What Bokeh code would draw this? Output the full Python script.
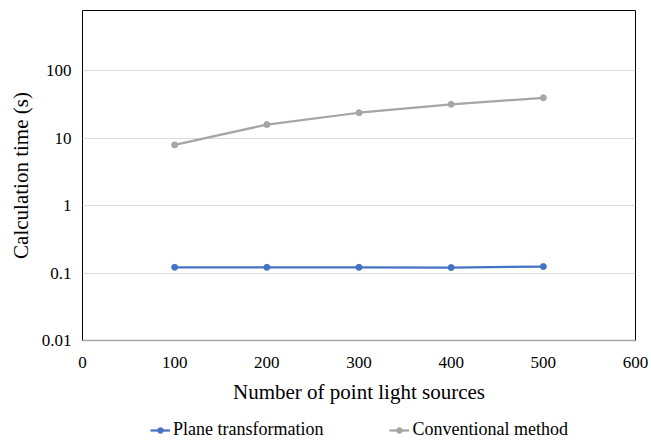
from bokeh.plotting import figure
from bokeh.models import Range1d, FixedTicker, Legend, LegendItem
from bokeh.layouts import column
from bokeh.embed import file_html
from bokeh.resources import INLINE

x_points = [100, 200, 300, 400, 500]
plane = [0.122, 0.122, 0.122, 0.121, 0.125]
conventional = [8, 16, 24, 32, 40]
series_names = ["Plane transformation", "Conventional method"]
y_ticks = [0.01, 0.1, 1, 10, 100]
y_tick_labels = ["0.01", "0.1", "1", "10", "100"]
x_ticks = [0, 100, 200, 300, 400, 500, 600]

FONT = "Liberation Serif"
blue = "#4472C4"
gray = "#A5A5A5"

p = figure(width=651, height=418, output_backend="svg", toolbar_location=None,
           y_axis_type="log", x_range=Range1d(0, 600), y_range=Range1d(0.01, 790),
           min_border_left=82, min_border_right=16, min_border_top=10, min_border_bottom=78)

p.outline_line_color = "black"
p.outline_line_width = 1
p.background_fill_color = "white"
p.border_fill_color = "white"

p.xgrid.visible = False
p.ygrid.grid_line_color = "#d9d9d9"
p.ygrid.grid_line_width = 1
p.ygrid.ticker = FixedTicker(ticks=y_ticks)

p.xaxis.ticker = FixedTicker(ticks=x_ticks)
p.xaxis.axis_line_color = "#a6a6a6"
p.xaxis.axis_line_width = 1.5
p.xaxis.major_tick_line_color = None
p.xaxis.minor_tick_line_color = None
p.xaxis.major_tick_out = 0
p.xaxis.major_label_standoff = 16
p.xaxis.major_label_text_font = FONT
p.xaxis.major_label_text_font_size = "17px"
p.xaxis.major_label_text_color = "black"
p.xaxis.axis_label = "Number of point light sources"
p.xaxis.axis_label_text_font = FONT
p.xaxis.axis_label_text_font_size = "21px"
p.xaxis.axis_label_text_font_style = "normal"
p.xaxis.axis_label_text_color = "black"
p.xaxis.axis_label_standoff = 9

p.yaxis.ticker = FixedTicker(ticks=y_ticks)
p.yaxis.major_label_overrides = {t: l for t, l in zip(y_ticks, y_tick_labels)}
p.yaxis.axis_line_color = None
p.yaxis.major_tick_line_color = None
p.yaxis.minor_tick_line_color = None
p.yaxis.major_tick_out = 0
p.yaxis.major_label_standoff = 11
p.yaxis.major_label_text_font = FONT
p.yaxis.major_label_text_font_size = "17px"
p.yaxis.major_label_text_color = "black"
p.yaxis.axis_label = "Calculation time (s)"
p.yaxis.axis_label_text_font = FONT
p.yaxis.axis_label_text_font_size = "21px"
p.yaxis.axis_label_text_font_style = "normal"
p.yaxis.axis_label_text_color = "black"
p.yaxis.axis_label_standoff = 6

p.line(x_points, plane, line_color=blue, line_width=2.25)
p.scatter(x_points, plane, size=6, fill_color=blue, line_color=blue)
p.line(x_points, conventional, line_color=gray, line_width=2.25)
p.scatter(x_points, conventional, size=6, fill_color=gray, line_color=gray)

# legend strip below the chart (its frame is aligned with the chart's frame)
q = figure(width=651, height=22, output_backend="svg", toolbar_location=None,
           x_range=Range1d(-2, -1), y_range=Range1d(-2, -1),
           x_axis_location=None, y_axis_location=None,
           min_border_left=0, min_border_right=0, min_border_top=0, min_border_bottom=0)
q.outline_line_color = None
q.xgrid.visible = False
q.ygrid.visible = False
ql1 = q.line(x_points, plane, line_color=blue, line_width=2.25)
qs1 = q.scatter(x_points, plane, size=6, fill_color=blue, line_color=blue)
ql2 = q.line(x_points, conventional, line_color=gray, line_width=2.25)
qs2 = q.scatter(x_points, conventional, size=6, fill_color=gray, line_color=gray)

legend = Legend(items=[LegendItem(label=series_names[0], renderers=[ql1, qs1]),
                       LegendItem(label=series_names[1], renderers=[ql2, qs2])],
                orientation="horizontal", location=(68, 0),
                label_text_font=FONT, label_text_font_size="18px",
                label_text_color="black", border_line_color=None,
                background_fill_alpha=0, glyph_width=20, glyph_height=14,
                label_standoff=3, spacing=66, padding=0, margin=0)
q.add_layout(legend, "center")

layout = column(p, q, spacing=0)
open("out.html", "w").write(file_html(layout, INLINE))
